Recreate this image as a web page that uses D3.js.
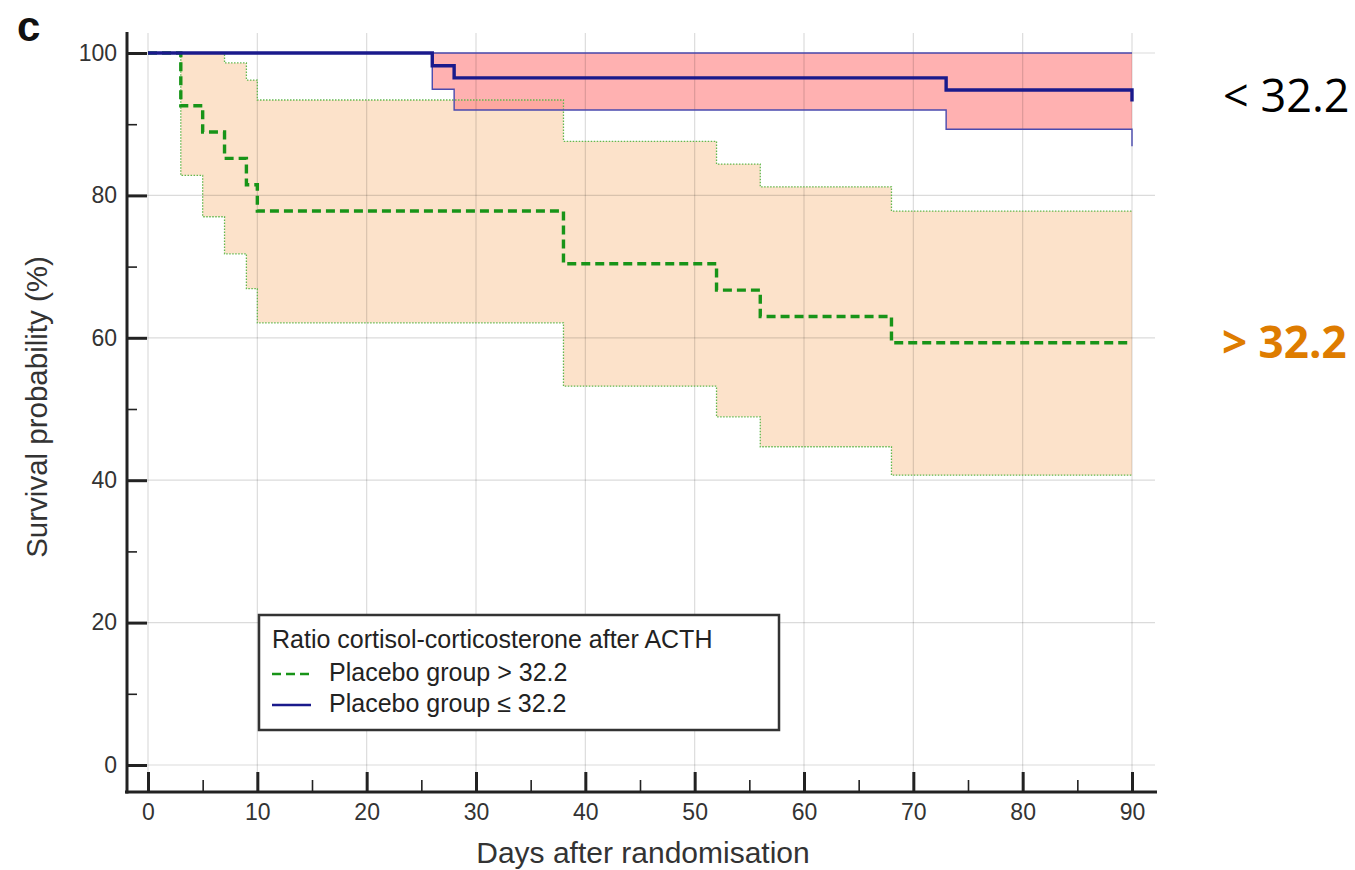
<!DOCTYPE html>
<html><head><meta charset="utf-8">
<script src="https://cdn.jsdelivr.net/npm/d3@7"></script>
<style>body{margin:0;background:#fff}</style>
</head><body><svg id="chart" width="1355" height="870"></svg>
<script>
// Group > 32.2 (green, dashed) Kaplan-Meier estimate and 95% CI
const gtTimes = [0, 3, 5, 7, 9, 10, 38, 52, 56, 68, 90];
const gtSurv  = [100, 92.6, 88.9, 85.2, 81.5, 77.8, 70.4, 66.7, 63.0, 59.3, 59.3];
const gtUpper = [100, 100, 100, 98.6, 96.2, 93.4, 87.6, 84.4, 81.2, 77.8, 77.8];
const gtLower = [100, 82.8, 77.0, 71.8, 66.9, 62.1, 53.2, 48.9, 44.7, 40.7, 40.7];
// Group <= 32.2 (blue, solid)
const leTimes = [0, 26, 28, 73, 90];
const leSurv  = [100, 98.2, 96.5, 94.8, 93.2];
const leUpper = [100, 100, 100, 100, 100];
const leLower = [100, 94.9, 92.0, 89.3, 86.9];

const xTicks = [0, 10, 20, 30, 40, 50, 60, 70, 80, 90];
const xMinor = [5, 15, 25, 35, 45, 55, 65, 75, 85];
const yTicks = [0, 20, 40, 60, 80, 100];
const yMinor = [10, 30, 50, 70, 90];

const legendTitle = "Ratio cortisol-corticosterone after ACTH";
const legendLabels = ["Placebo group > 32.2", "Placebo group \u2264 32.2"];

const svg = d3.select("#chart");
const x = d3.scaleLinear().domain([0, 90]).range([148, 1132]);
const y = d3.scaleLinear().domain([0, 100]).range([765, 53]);
const axisX = 127, axisY = 792, gridTop = 33, gridRight = 1155;
const font = "'Liberation Sans', Arial, sans-serif";

const pts = (ts, vs) => ts.map((t, i) => ({t, v: vs[i]}));
const band = (ts, lo, hi) => ts.map((t, i) => ({t, lo: lo[i], hi: hi[i]}));
const line = d3.line().x(d => x(d.t)).y(d => y(d.v)).curve(d3.curveStepAfter);
const area = d3.area().x(d => x(d.t)).y0(d => y(d.lo)).y1(d => y(d.hi)).curve(d3.curveStepAfter);

// bands
svg.append("path").attr("d", area(band(gtTimes, gtLower, gtUpper))).attr("fill", "#FCE2CA");
svg.append("path").attr("d", area(band(leTimes, leLower, leUpper))).attr("fill", "#FF8C8C").attr("fill-opacity", 0.68);

// grid
const grid = svg.append("g").attr("stroke", "#000").attr("stroke-opacity", 0.14).attr("stroke-width", 1.2);
grid.selectAll("line.v").data(xTicks).join("line")
  .attr("x1", d => x(d)).attr("x2", d => x(d)).attr("y1", gridTop).attr("y2", axisY);
grid.selectAll("line.h").data(yTicks).join("line")
  .attr("x1", axisX + 20).attr("x2", gridRight).attr("y1", d => y(d)).attr("y2", d => y(d));

// CI outlines
[gtUpper, gtLower].forEach(arr => {
  svg.append("path").attr("d", line(pts(gtTimes, arr))).attr("fill", "none")
    .attr("stroke", "#62B84E").attr("stroke-width", 1.3).attr("stroke-dasharray", "1.5,1.5");
});
[leUpper, leLower].forEach(arr => {
  svg.append("path").attr("d", line(pts(leTimes, arr))).attr("fill", "none")
    .attr("stroke", "#4A4AAE").attr("stroke-width", 1.4);
});

// KM curves
svg.append("path").attr("d", line(pts(gtTimes, gtSurv))).attr("fill", "none")
  .attr("stroke", "#189418").attr("stroke-width", 3.4).attr("stroke-dasharray", "9,5");
svg.append("path").attr("d", line(pts(leTimes, leSurv))).attr("fill", "none")
  .attr("stroke", "#1A1A8C").attr("stroke-width", 3.4);

// axes
const gy = svg.append("g").attr("transform", `translate(${axisX},0)`);
gy.call(d3.axisLeft(y).tickValues(yTicks).tickSizeInner(-20).tickSizeOuter(0).tickPadding(10).tickFormat(d3.format("d")));
gy.append("g").call(d3.axisLeft(y).tickValues(yMinor).tickSizeInner(-10).tickSizeOuter(0).tickFormat(""));
const gx = svg.append("g").attr("transform", `translate(0,${axisY})`);
gx.call(d3.axisBottom(x).tickValues(xTicks).tickSizeInner(-20).tickSizeOuter(0).tickPadding(12).tickFormat(d3.format("d")));
gx.append("g").call(d3.axisBottom(x).tickValues(xMinor).tickSizeInner(-12).tickSizeOuter(0).tickFormat(""));
svg.selectAll(".domain").remove();
svg.selectAll(".tick line").attr("stroke", "#222");
gy.selectAll(":scope > .tick line").attr("stroke-width", 3);
gx.selectAll(":scope > .tick line").attr("stroke-width", 3);
gy.selectAll("g g .tick line").attr("stroke-width", 1.6);
gx.selectAll("g g .tick line").attr("stroke-width", 1.6);
svg.selectAll(".tick text").attr("font-family", font).attr("font-size", 23).attr("fill", "#333");
svg.append("line").attr("x1", axisX).attr("x2", axisX).attr("y1", 32).attr("y2", axisY + 1.5)
  .attr("stroke", "#222").attr("stroke-width", 3);
svg.append("line").attr("x1", axisX - 2).attr("x2", 1157).attr("y1", axisY).attr("y2", axisY)
  .attr("stroke", "#222").attr("stroke-width", 3);

// axis titles
svg.append("text").attr("x", 643).attr("y", 863).attr("text-anchor", "middle")
  .attr("font-family", font).attr("font-size", 30).attr("fill", "#333").text("Days after randomisation");
svg.append("text").attr("transform", "translate(47,407) rotate(-90)").attr("text-anchor", "middle")
  .attr("font-family", font).attr("font-size", 29.5).attr("fill", "#333").text("Survival probability (%)");

// panel letter
svg.append("text").attr("x", 17).attr("y", 41).attr("font-family", font).attr("font-weight", "bold")
  .attr("font-size", 42).attr("fill", "#111").text("c");

// legend
const lg = svg.append("g");
lg.append("rect").attr("x", 259).attr("y", 615).attr("width", 520).attr("height", 115)
  .attr("fill", "#fff").attr("stroke", "#333").attr("stroke-width", 2.5);
lg.append("text").attr("x", 272).attr("y", 648).attr("font-family", font).attr("font-size", 25)
  .attr("fill", "#222").text(legendTitle);
lg.append("line").attr("x1", 272).attr("x2", 311).attr("y1", 674).attr("y2", 674)
  .attr("stroke", "#189418").attr("stroke-width", 2.5).attr("stroke-dasharray", "9,5");
lg.append("line").attr("x1", 272).attr("x2", 311).attr("y1", 705).attr("y2", 705)
  .attr("stroke", "#1A1A8C").attr("stroke-width", 2.5);
legendLabels.forEach((t, i) => {
  lg.append("text").attr("x", 329).attr("y", 681 + i * 31).attr("font-family", font).attr("font-size", 25)
    .attr("fill", "#222").text(t);
});

// side labels
svg.append("text").attr("x", 1223).attr("y", 112).attr("font-family", "'Open Sans', 'Noto Sans', sans-serif")
  .attr("font-size", 45).attr("fill", "#000").text("< 32.2");
svg.append("text").attr("x", 1222).attr("y", 358).attr("font-family", "'Open Sans', 'Noto Sans', sans-serif")
  .attr("font-weight", "bold").attr("font-size", 44).attr("fill", "#DE7C00").text("> 32.2");
</script></body></html>
